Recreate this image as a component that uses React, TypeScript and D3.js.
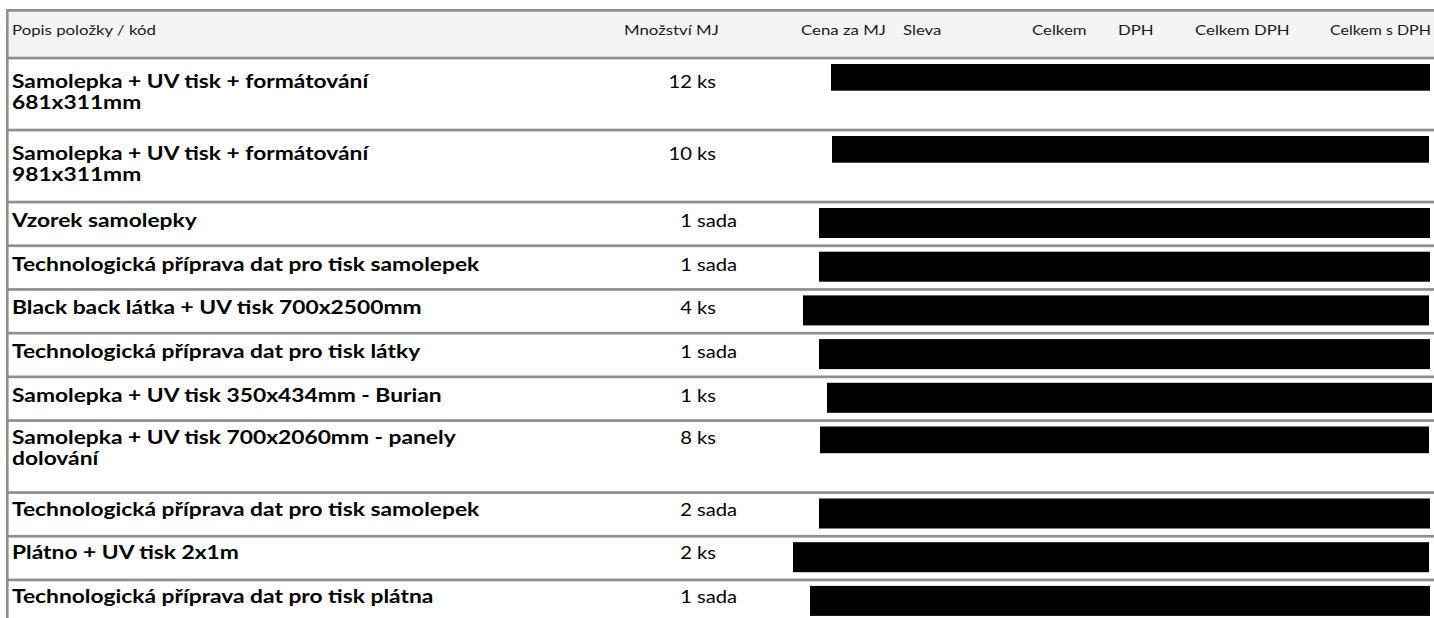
import * as React from 'react';
import * as d3 from 'd3';

// invoice lines
const headers = ['Popis položky / kód', 'Množství MJ', 'Cena za MJ', 'Sleva', 'Celkem', 'DPH', 'Celkem DPH', 'Celkem s DPH'];
const headerStarts = [12, 624, 801, 903, 1032, 1118, 1195, 1330];

const descriptions = [
  ['Samolepka + UV tisk + formátování', '681x311mm'],
  ['Samolepka + UV tisk + formátování', '981x311mm'],
  ['Vzorek samolepky'],
  ['Technologická příprava dat pro tisk samolepek'],
  ['Black back látka + UV tisk 700x2500mm'],
  ['Technologická příprava dat pro tisk látky'],
  ['Samolepka + UV tisk 350x434mm - Burian'],
  ['Samolepka + UV tisk 700x2060mm - panely', 'dolování'],
  ['Technologická příprava dat pro tisk samolepek'],
  ['Plátno + UV tisk 2x1m'],
  ['Technologická příprava dat pro tisk plátna'],
];
const quantities = [12, 10, 1, 1, 4, 1, 1, 8, 2, 2, 1];
const units = ['ks', 'ks', 'sada', 'sada', 'ks', 'sada', 'ks', 'ks', 'sada', 'ks', 'sada'];

// blacked-out price columns (start / end of each redaction)
const redactedFrom = [831, 832, 819, 819, 803, 819, 827, 820, 819, 793, 810];
const redactedTo = [1430, 1429, 1430, 1430, 1429, 1430, 1432, 1429, 1430, 1429, 1430];

export default function App() {
  const svgRef = React.useRef<SVGSVGElement | null>(null);
  const width = 1434;
  const height = 618;
  const lineColor = '#8f8f8f';
  const font = 'Lato, "Open Sans", sans-serif';

  React.useEffect(() => {
    if (!svgRef.current) return;
    const svg = d3.select(svgRef.current);
    svg.selectAll('*').remove();

    const x = d3.scaleLinear().domain([0, width]).range([0, width]);

    const rowHeights = descriptions.map((d) => (d.length > 1 ? 72 : 43.7));
    const headerBottom = 58;
    const tops = [headerBottom, ...Array.from(d3.cumsum(rowHeights), (c) => headerBottom + c)];
    // first baseline below the row's top rule (the source page is not quite uniform)
    const baseline = (i: number) => tops[i] + (i < 2 ? 30 : i < 7 ? 25 : 23);

    // header band
    svg.append('rect').attr('x', 8).attr('y', 11).attr('width', width).attr('height', 46).attr('fill', '#f4f4f4');

    svg
      .append('g')
      .selectAll('text')
      .data(headers)
      .enter()
      .append('text')
      .attr('font-family', font)
      .attr('font-size', 14)
      .attr('fill', '#1a1a1a')
      .text((d) => d)
      .each(function (d, i) {
        // squeeze the last label a touch so it stays inside the page
        const len = (this as SVGTextElement).getComputedTextLength();
        const sx = Math.min(1.2, (width - 3 - headerStarts[i]) / len);
        d3.select(this).attr('transform', `translate(${x(headerStarts[i])},35) scale(${sx},1)`);
      });

    // row separators + borders
    svg.append('rect').attr('x', 6).attr('y', 9).attr('width', width).attr('height', 2.7).attr('fill', lineColor);
    svg
      .append('g')
      .selectAll('rect')
      .data(tops)
      .enter()
      .append('rect')
      .attr('x', 6)
      .attr('y', (d) => d - 1.3)
      .attr('width', width)
      .attr('height', 2.7)
      .attr('fill', lineColor);
    svg.append('rect').attr('x', 6).attr('y', 9).attr('width', 2.6).attr('height', height).attr('fill', lineColor);

    const rows = svg
      .append('g')
      .selectAll('g')
      .data(descriptions)
      .enter()
      .append('g');

    rows.each(function (d, i) {
      const g = d3.select(this);
      const top = tops[i];
      const base = baseline(i);
      d.forEach((line, j) => {
        g.append('text')
          .attr('transform', `translate(${x(12)},${base + j * 21}) scale(1.225,1)`)
          .attr('font-family', font)
          .attr('font-weight', 700)
          .attr('font-size', 18.6)
          .attr('fill', '#000')
          .text(line);
      });
      g.append('text')
        .attr('transform', `translate(${x(692)},${base}) scale(1.2,1)`)
        .attr('text-anchor', 'end')
        .attr('font-family', font)
        .attr('font-size', 16.8)
        .attr('fill', '#000')
        .text(quantities[i]);
      g.append('text')
        .attr('transform', `translate(${x(697)},${base}) scale(1.2,1)`)
        .attr('font-family', font)
        .attr('font-size', 16.8)
        .attr('fill', '#000')
        .text(units[i]);
      g.append('rect')
        .attr('x', x(redactedFrom[i]))
        .attr('y', top + 6)
        .attr('width', x(redactedTo[i]) - x(redactedFrom[i]))
        .attr('height', d.length > 1 ? 26.7 : 30)
        .attr('fill', '#000');
    });
  }, []);

  return (
    <svg
      ref={svgRef}
      width={width}
      height={height}
      style={{ position: 'fixed', left: 0, top: 0, background: '#fff' }}
    />
  );
}
